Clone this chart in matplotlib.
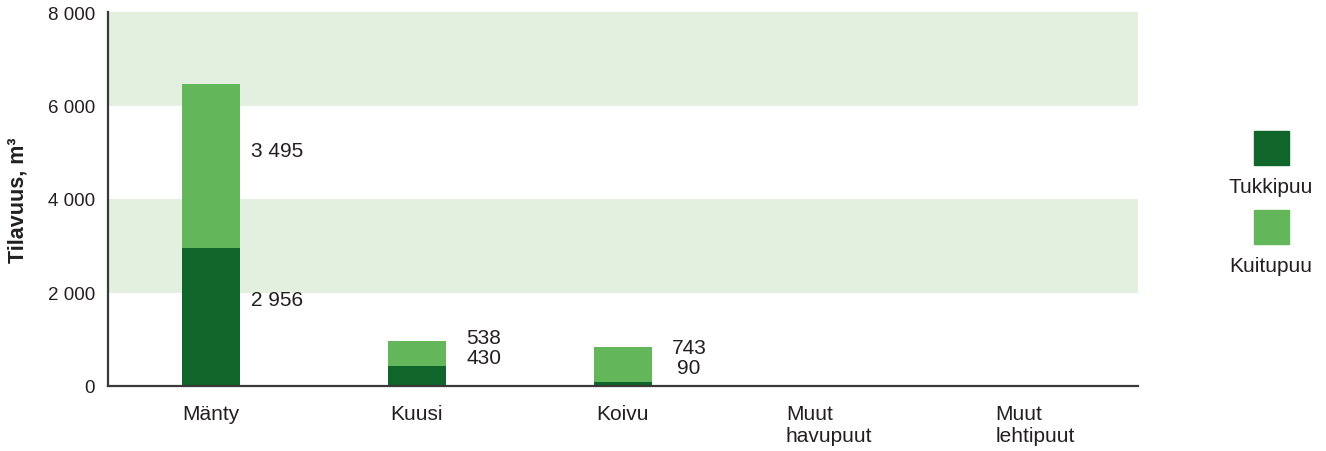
import numpy as np
from matplotlib import pyplot as plt
from matplotlib import ticker
from matplotlib.patches import Rectangle

categories = ['Mänty', 'Kuusi', 'Koivu', 'Muut\nhavupuut', 'Muut\nlehtipuut']
tukkipuu = [2956, 430, 90, 0, 0]
kuitupuu = [3495, 538, 743, 0, 0]
series_names = ['Tukkipuu', 'Kuitupuu']

# where the value labels sit (data units)
tukki_label_y = [1860, 600, 406]
kuitu_label_y = [5027, 1048, 813]

dark = '#10652a'
light = '#63b75a'
band = '#e3efdf'
text_col = '#231f20'

plt.rcParams['font.family'] = ['Liberation Sans', 'DejaVu Sans']
plt.rcParams['font.size'] = 15

fig = plt.figure(figsize=(13.26, 4.52), dpi=100)
ax = fig.add_axes([108 / 1326, 65 / 452, 1030 / 1326, 374 / 452])

x = np.arange(len(categories))
width = 0.286

for lo, hi in [(2000, 4000), (6000, 8000)]:
    ax.axhspan(lo, hi, color=band, zorder=0, lw=0)

ax.bar(x, tukkipuu, width, color=dark, zorder=2)
ax.bar(x, kuitupuu, width, bottom=tukkipuu, color=light, zorder=2)

def fmt(v):
    return f'{int(v):,}'.replace(',', ' ')

for i in range(3):
    if i == 0:
        xl = x[i] + width / 2 + 0.05
        ax.text(xl, kuitu_label_y[i], fmt(kuitupuu[i]), va='center', ha='left', color=text_col)
        ax.text(xl, tukki_label_y[i], fmt(tukkipuu[i]), va='center', ha='left', color=text_col)
    else:
        xr = x[i] + width / 2 + 0.265
        ax.text(xr, kuitu_label_y[i], fmt(kuitupuu[i]), va='center', ha='right', color=text_col)
        ax.text(xr - (0.03 if i == 2 else 0), tukki_label_y[i], fmt(tukkipuu[i]), va='center', ha='right', color=text_col)

ax.set_xlim(-0.5, len(categories) - 0.5)
ax.set_ylim(0, 8000)
ax.set_yticks([0, 2000, 4000, 6000, 8000])
ax.yaxis.set_major_formatter(ticker.FuncFormatter(lambda v, p: fmt(v)))
ax.set_xticks(x)
ax.set_xticklabels(categories, multialignment='left', va='top')
ax.tick_params(axis='x', length=0, pad=13, colors=text_col)
ax.tick_params(axis='y', length=0, pad=9.5, colors=text_col, labelsize=13.5)

for s in ['top', 'right']:
    ax.spines[s].set_visible(False)
for s in ['left', 'bottom']:
    ax.spines[s].set_color('#3a3a3a')
    ax.spines[s].set_linewidth(1.6)
    ax.spines[s].set_zorder(3)

fig.text(18 / 1326, 1 - 200 / 452, 'Tilavuus, m³', rotation=90, fontweight='bold',
         va='center', ha='center', color=text_col, fontsize=15.5)

# legend: squares with names below
for j, (name, col) in enumerate(zip(series_names, [dark, light])):
    top = 132 + j * 79
    fig.patches.append(Rectangle((1254 / 1326, 1 - (top + 34) / 452), 35 / 1326, 34 / 452,
                                 transform=fig.transFigure, color=col))
    fig.text(1271 / 1326, 1 - (top + 56) / 452, name, ha='center', va='center', color=text_col)

fig.savefig('out.png', dpi=100)
